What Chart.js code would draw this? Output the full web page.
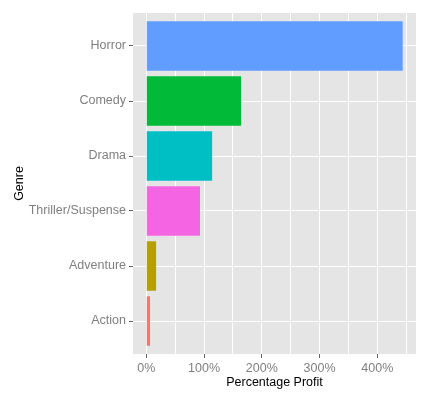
<!DOCTYPE html>
<html>
<head>
<meta charset="utf-8">
<script src="https://cdn.jsdelivr.net/npm/chart.js@4"></script>
<style>
  html, body { margin: 0; padding: 0; background: #fff; }
  #wrap { width: 435px; height: 398px; }
</style>
</head>
<body>
<div id="wrap"><canvas id="profitChart"></canvas></div>
<script>
// bottom to top, like the plot
const genres = ["Action", "Adventure", "Thriller/Suspense", "Drama", "Comedy", "Horror"];
const profitPct = [6.5, 17, 93, 114, 164, 444];
const barColors = ["#F8766D", "#B79F00", "#F564E3", "#00BFC4", "#00BA38", "#619CFF"];
const xTicks = [0, 100, 200, 300, 400];

const font = { family: "'Liberation Sans', Arial, sans-serif", size: 12.5 };

// grey panel behind the bars
const panelBg = {
    id: "panelBg",
    beforeDraw(chart) {
        const a = chart.chartArea;
        const ctx = chart.ctx;
        ctx.save();
        ctx.fillStyle = "#E5E5E5";
        ctx.fillRect(a.left, a.top, a.right - a.left, a.bottom - a.top);
        ctx.restore();
    }
};

new Chart(document.getElementById("profitChart"), {
    type: "bar",
    plugins: [panelBg],
    data: {
        datasets: [{
            data: genres.map((g, i) => ({ x: profitPct[i], y: i })),
            backgroundColor: barColors,
            categoryPercentage: 1,
            barPercentage: 0.9,
            borderWidth: 0
        }]
    },
    options: {
        indexAxis: "y",
        responsive: true,
        maintainAspectRatio: false,
        animation: false,
        events: [],
        layout: { padding: { top: 13, right: 19, left: 0, bottom: 0 } },
        plugins: { legend: { display: false }, tooltip: { enabled: false } },
        scales: {
            x: {
                type: "linear",
                min: -23,
                max: 467,
                afterBuildTicks: s => {
                    s.ticks = [0, 50, 100, 150, 200, 250, 300, 350, 400, 450].map(v => ({ value: v }));
                },
                afterFit: s => { s.height = 44; },
                border: { display: false },
                grid: {
                    color: "#FFFFFF",
                    lineWidth: 1,
                    tickLength: 4,
                    tickColor: c => xTicks.includes(c.tick.value) ? "#666666" : "rgba(0,0,0,0)"
                },
                ticks: {
                    autoSkip: false,
                    maxRotation: 0,
                    padding: 3,
                    color: "#7F7F7F",
                    font: font,
                    callback: v => xTicks.includes(v) ? v + "%" : ""
                },
                title: {
                    display: true,
                    text: "Percentage Profit",
                    color: "#000",
                    font: font,
                    padding: { top: 0, bottom: 7.5 }
                }
            },
            y: {
                type: "linear",
                min: -0.6,
                max: 5.6,
                offset: false,
                afterBuildTicks: s => {
                    s.ticks = genres.map((g, i) => ({ value: i }));
                },
                afterFit: s => { s.width = 133; },
                border: { display: false },
                grid: {
                    offset: false,
                    color: "#FFFFFF",
                    lineWidth: 1,
                    tickLength: 4,
                    tickColor: "#666666"
                },
                ticks: {
                    autoSkip: false,
                    padding: 3,
                    color: "#7F7F7F",
                    font: font,
                    callback: v => genres[v]
                },
                title: {
                    display: true,
                    text: "Genre",
                    color: "#000",
                    font: font,
                    padding: { top: 12.5, bottom: 0 }
                }
            }
        }
    }
});
</script>
</body>
</html>
